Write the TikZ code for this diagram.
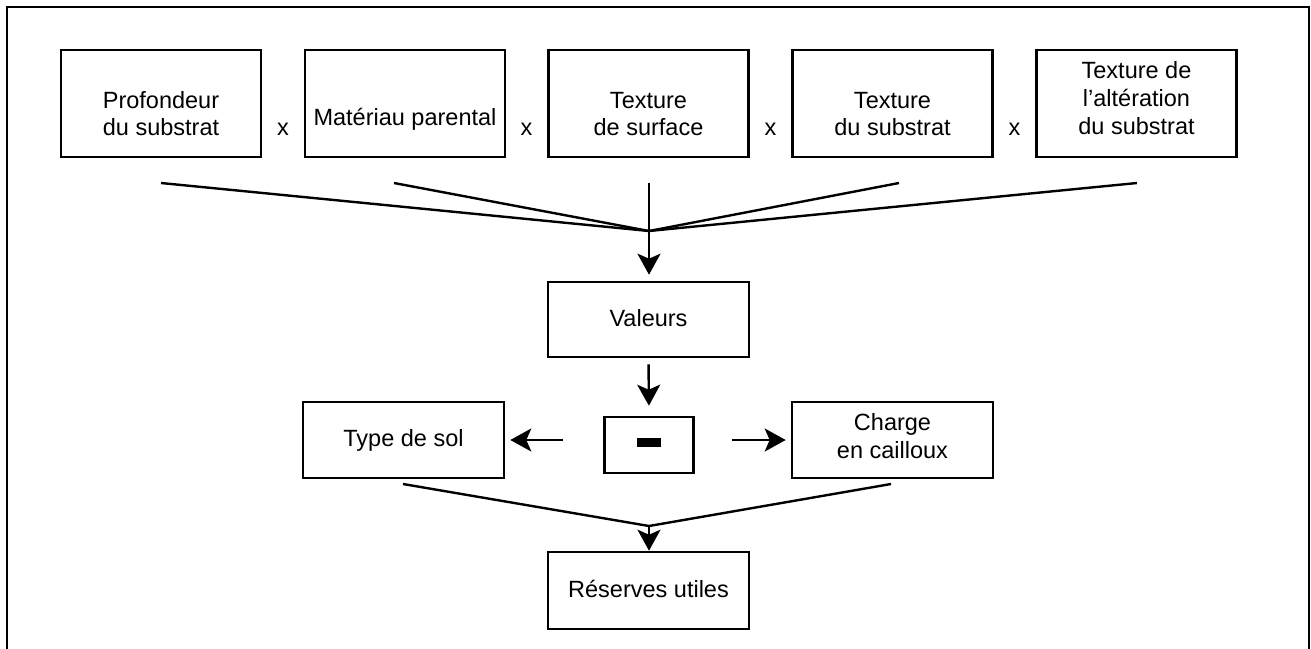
\documentclass[tikz,border=0pt]{standalone}
\usepackage{fontspec}
\setmainfont{Liberation Sans}
\usetikzlibrary{arrows.meta}
\tikzset{
  box/.style={draw, line width=2.6pt, rectangle, inner sep=0pt, minimum width=200pt},
  tb/.style={box, minimum height=107pt},
  txt/.style={anchor=base, inner sep=0pt, font=\fontsize{23.5}{27}\selectfont},
  conn/.style={line width=2.4pt},
  arr/.style={conn, -{Stealth[length=21pt,width=23pt,inset=5pt]}},
}
\begin{document}
\begin{tikzpicture}[x=1pt,y=-1pt]
\useasboundingbox (0,0) rectangle (1311,648);
% frame
\draw[line width=2.4pt] (7,700) -- (7,7) -- (1309,7) -- (1309,700);
% top boxes
\node[tb] (b1) at (161,103.5) {};
\node[tb] (b2) at (405,103.5) {};
\node[tb] (b3) at (648.5,103.5) {};
\node[tb] (b4) at (892.5,103.5) {};
\node[tb] (b5) at (1136.5,103.5) {};
\node[txt] (t1a) at (161,108) {Profondeur};
\node[txt] (t1b) at (161,135) {du substrat};
\node[txt] (t2a) at (405,125) {Matériau parental};
\node[txt] (t3a) at (648.5,108) {Texture};
\node[txt] (t3b) at (648.5,135) {de surface};
\node[txt] (t4a) at (892.5,108) {Texture};
\node[txt] (t4b) at (892.5,135) {du substrat};
\node[txt] (t5a) at (1136.5,78) {Texture de};
\node[txt] (t5b) at (1136.5,106) {l’altération};
\node[txt] (t5c) at (1136.5,134) {du substrat};
\node[txt] (x1) at (283,135) {x};
\node[txt] (x2) at (526.5,135) {x};
\node[txt] (x3) at (770.5,135) {x};
\node[txt] (x4) at (1014.5,135) {x};
% middle
\node[box, minimum width=201pt, minimum height=75pt] (val) at (648.5,319.5) {};
\node[txt] (tval) at (648.5,326) {Valeurs};
\node[box, minimum width=89pt, minimum height=56pt] (minus) at (649,445) {};
\node[fill=black, inner sep=0pt, minimum width=24pt, minimum height=9pt] (bar) at (649,442.5) {};
\node[box, minimum width=201pt, minimum height=76pt] (sol) at (403.5,440) {};
\node[txt] (tsol) at (403.5,446) {Type de sol};
\node[box, minimum width=201pt, minimum height=76pt] (charge) at (892.5,440) {};
\node[txt] (tch1) at (892.5,430) {Charge};
\node[txt] (tch2) at (892.5,458) {en cailloux};
\node[box, minimum width=201pt, minimum height=77pt] (res) at (648.5,590.5) {};
\node[txt] (tres) at (648.5,597) {Réserves utiles};
% top connectors
\coordinate (s1) at (161,183);
\coordinate (s2) at (394,183);
\coordinate (s3) at (649,183);
\coordinate (s4) at (899,183);
\coordinate (s5) at (1137,183);
\coordinate (m) at (649,231);
\draw[conn] (s1) -- (m) -- (s5);
\draw[conn] (s2) -- (m) -- (s4);
\draw[arr, shorten >=6pt] (s3) -- (s3 |- val.north);
% middle arrows
\draw[arr, shorten <=6pt, shorten >=10pt] (val.south) -- (minus.north);
\draw[arr, shorten <=40pt, shorten >=5pt] (sol.east -| minus.west) -- (sol.east);
\draw[arr, shorten <=37pt, shorten >=5pt] (charge.west -| minus.east) -- (charge.west);
% bottom connectors
\coordinate (l1) at (403,484);
\coordinate (l2) at (891,484);
\coordinate (m2) at (649,526);
\draw[conn] (l1) -- (m2) -- (l2);
\draw[arr] (m2) -- (m2 |- res.north);
\end{tikzpicture}
\end{document}
